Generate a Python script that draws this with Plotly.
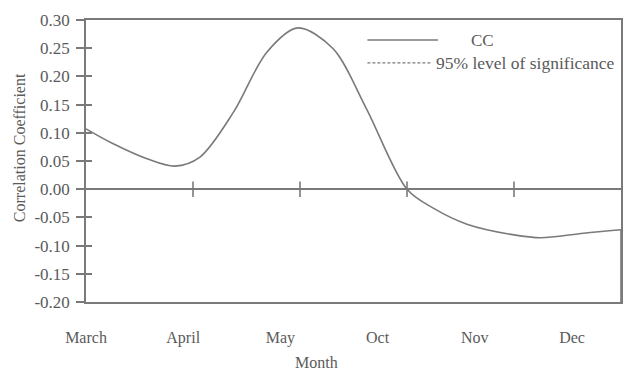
import plotly.graph_objects as go

# ---- data ----
months = ["March", "April", "May", "Oct", "Nov", "Dec"]
month_idx = [0, 1, 2, 3, 4, 5]
x_pos = [0, 0.25, 0.57, 0.83, 1.065, 1.38, 1.69, 1.98, 2.31, 2.62, 3.0, 3.25, 3.56,
         4.0, 4.25, 4.65, 5.0, 5.0]
cc = [0.107, 0.081, 0.054, 0.041, 0.057, 0.137, 0.243, 0.286, 0.249, 0.143, 0.0, -0.034,
      -0.062, -0.081, -0.086, -0.078, -0.072, -0.20]
y_ticks = [0.30, 0.25, 0.20, 0.15, 0.10, 0.05, 0.00, -0.05, -0.10, -0.15, -0.20]
y_labels = ["0.30", "0.25", "0.20", "0.15", "0.10", "0.05", "0.00",
            "-0.05", "-0.10", "-0.15", "-0.20"]

LINE = "#7a7a7a"
TEXT = "#5a5a5a"
FONT = "Liberation Serif"

fig = go.Figure()
# smooth curve up to Dec, then the straight drop at Dec
fig.add_trace(go.Scatter(x=x_pos[:-1], y=cc[:-1], mode="lines",
                         line=dict(color=LINE, width=1.6, shape="spline", smoothing=0.9),
                         showlegend=False, hoverinfo="skip"))
fig.add_trace(go.Scatter(x=x_pos[-2:], y=cc[-2:], mode="lines",
                         line=dict(color=LINE, width=1.6),
                         showlegend=False, hoverinfo="skip"))
# tick marks on the zero line
fig.add_trace(go.Scatter(x=month_idx[1:-1], y=[0] * 4, mode="markers",
                         marker=dict(symbol="line-ns-open", size=11, color=LINE,
                                     line=dict(color=LINE, width=1.6)),
                         showlegend=False, hoverinfo="skip"))

# page body has an 8px margin: size the figure so the plot area lands as in the reference
fig.update_layout(
    width=631, height=368,
    margin=dict(l=78, r=18, t=12, b=74, autoexpand=False),
    paper_bgcolor="white", plot_bgcolor="white",
    font=dict(family=FONT, color=TEXT, size=16),
    xaxis=dict(range=[0, 5], showgrid=False, showticklabels=False, ticks="",
               zeroline=False, showline=True, mirror=True, automargin=False,
               linecolor=LINE, linewidth=1.6),
    xaxis2=dict(overlaying="x", side="bottom", range=[0, 5.504], automargin=False,
                tickvals=month_idx, ticktext=months, ticks="",
                showgrid=False, zeroline=False, showline=False,
                ticklabelstandoff=24, tickfont=dict(size=16)),
    yaxis=dict(range=[-0.20, 0.30], tickvals=y_ticks, ticktext=y_labels,
               ticks="outside", ticklen=8, tickwidth=1.6, tickcolor=LINE,
               ticklabelstandoff=3, automargin=False,
               showgrid=False, zeroline=True, zerolinecolor=LINE, zerolinewidth=1.6,
               showline=True, mirror=True, linecolor=LINE, linewidth=1.6,
               tickfont=dict(size=17)),
    yaxis2=dict(overlaying="y", range=[-0.20, 0.30], tickvals=y_ticks, automargin=False,
                ticks="inside", ticklen=6, tickwidth=1.6, tickcolor=LINE,
                showticklabels=False, showgrid=False, zeroline=False, showline=False),
)
# invisible trace to activate xaxis2
fig.add_trace(go.Scatter(x=[None], y=[None], xaxis="x2", yaxis="y2",
                         showlegend=False, hoverinfo="skip"))

# axis titles
fig.add_annotation(text="Correlation Coefficient", textangle=-90,
                   xref="paper", yref="paper", x=-0.125, y=0.546,
                   xanchor="center", yanchor="middle",
                   showarrow=False, font=dict(size=16, color=TEXT))
fig.add_annotation(text="Month", xref="paper", yref="paper", x=0.43, y=-0.213,
                   xanchor="center", yanchor="middle",
                   showarrow=False, font=dict(size=16, color=TEXT))

# legend drawn manually
fig.add_shape(type="line", xref="paper", yref="paper",
              x0=0.526, x1=0.658, y0=0.929, y1=0.929,
              line=dict(color=LINE, width=1.6))
fig.add_annotation(text="CC", xref="paper", yref="paper", x=0.742, y=0.929,
                   xanchor="center", yanchor="middle", showarrow=False,
                   font=dict(size=17, color=TEXT))
fig.add_shape(type="line", xref="paper", yref="paper",
              x0=0.526, x1=0.645, y0=0.848, y1=0.848,
              line=dict(color=LINE, width=1.3, dash="3px,2px"))
fig.add_annotation(text="95% level of significance", xref="paper", yref="paper",
                   x=0.650, y=0.848, xanchor="left", yanchor="middle", showarrow=False,
                   font=dict(size=17.5, color=TEXT))

fig.write_html("out.html")
